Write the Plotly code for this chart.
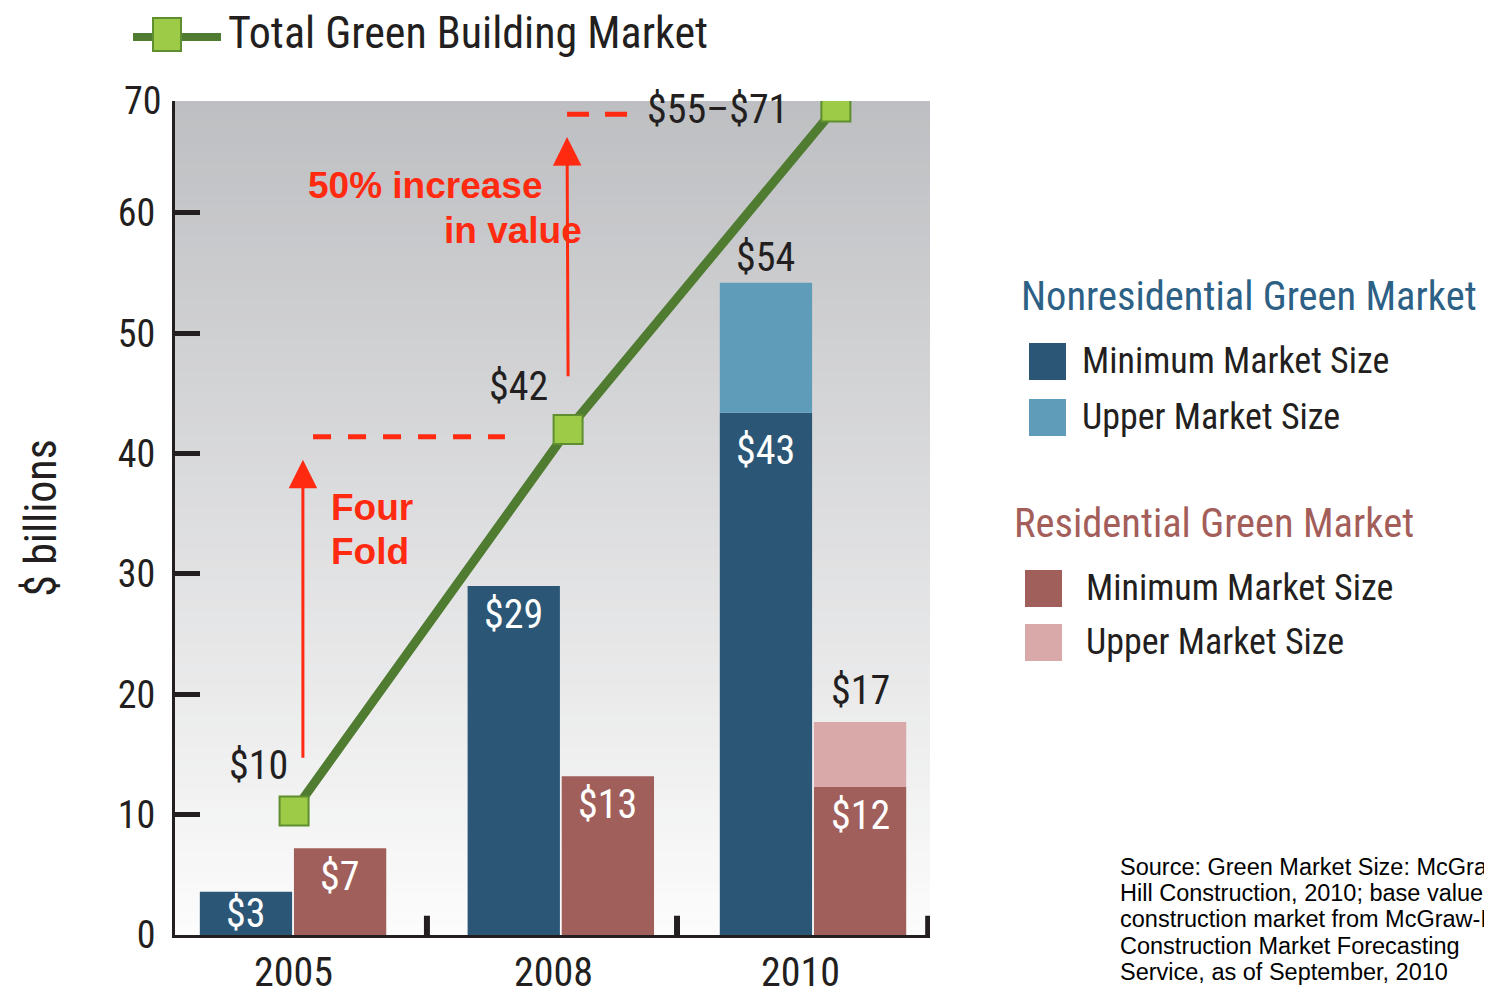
import plotly.graph_objects as go

# ---------------- data ----------------
years = ["2005", "2008", "2010"]
nonres_min = [3.6, 29.0, 43.4]
nonres_upper_top = [None, None, 54.2]
res_min = [7.2, 13.2, 12.3]
res_upper_top = [None, None, 17.7]
total_market = [10.3, 42.0, 68.8]

nonres_labels = ["$3", "$29", "$43"]
res_labels = ["$7", "$13", "$12"]
total_labels = ["$10", "$42", "$55\u2013$71"]
upper_labels_nonres = [None, None, "$54"]
upper_labels_res = [None, None, "$17"]

y_ticks = [0, 10, 20, 30, 40, 50, 60]

# ---------------- layout helpers (positions / styles) ----------------
group_pos = [0.0, 1.03, 2.0]
year_label_pos = [0.0, 1.0, 1.95]
line_pos = [0.004, 1.058, 2.088]
bar_off = 0.181
bar_w = 0.355
X_RANGE = [-0.454, 2.45]
Y_RANGE = [0, 69.3]

# label offsets (pixels) for the white in-bar labels
nonres_label_shift = [4, -3, -12]
res_label_shift = [-3, -3, -3]

C_NR_MIN = "#2b5675"
C_NR_UP = "#5e9cb9"
C_R_MIN = "#a15f5b"
C_R_UP = "#d9a9a9"
C_LINE = "#507c31"
C_MARK = "#9dcb48"
C_MARK_EDGE = "#5e8e2f"
C_RED = "#ff2a10"
C_TEXT = "#231f20"

COND = "Roboto Condensed, Liberation Sans Narrow, DejaVu Sans Condensed, sans-serif"
ARIAL = "Liberation Sans, Arial, sans-serif"

# page offset (body margin) and plot box in page pixels
OFF = 8
PL, PR, PT, PB = 175, 930, 101, 935
FIG_W, FIG_H = 1492 - OFF, 995 - OFF


def px_x(px):
    return (px - PL) / (PR - PL)


def px_y(py):
    return (PB - py) / (PB - PT)


fig = go.Figure()

nr_x = [g - bar_off for g in group_pos]
r_x = [g + bar_off for g in group_pos]

fig.add_trace(go.Bar(x=nr_x, y=nonres_min, width=bar_w, marker=dict(color=C_NR_MIN, line=dict(width=0)),
                     name="Nonresidential Minimum Market Size", showlegend=False))
nr_up_x = [x for x, v in zip(nr_x, nonres_upper_top) if v is not None]
nr_up_base = [m for m, v in zip(nonres_min, nonres_upper_top) if v is not None]
nr_up_h = [v - m for m, v in zip(nonres_min, nonres_upper_top) if v is not None]
fig.add_trace(go.Bar(x=nr_up_x, y=nr_up_h, base=nr_up_base, width=bar_w,
                     marker=dict(color=C_NR_UP, line=dict(width=0)),
                     name="Nonresidential Upper Market Size", showlegend=False))
fig.add_trace(go.Bar(x=r_x, y=res_min, width=bar_w, marker=dict(color=C_R_MIN, line=dict(width=0)),
                     name="Residential Minimum Market Size", showlegend=False))
r_up_x = [x for x, v in zip(r_x, res_upper_top) if v is not None]
r_up_base = [m for m, v in zip(res_min, res_upper_top) if v is not None]
r_up_h = [v - m for m, v in zip(res_min, res_upper_top) if v is not None]
fig.add_trace(go.Bar(x=r_up_x, y=r_up_h, base=r_up_base, width=bar_w,
                     marker=dict(color=C_R_UP, line=dict(width=0)),
                     name="Residential Upper Market Size", showlegend=False))

fig.add_trace(go.Scatter(x=line_pos, y=total_market, mode="lines+markers",
                         line=dict(color=C_LINE, width=9),
                         marker=dict(symbol="square", size=29, color=C_MARK,
                                     line=dict(color=C_MARK_EDGE, width=2)),
                         name="Total Green Building Market", showlegend=False))

annotations = []
shapes = []

# gradient plot background
N = 80
top_rgb = (190, 191, 194)
bot_rgb = (252, 252, 252)
for i in range(N):
    t = i / (N - 1)
    c = tuple(int(round(top_rgb[k] + (bot_rgb[k] - top_rgb[k]) * t)) for k in range(3))
    y1 = 1 - i / N
    y0 = 1 - (i + 1) / N
    shapes.append(dict(type="rect", xref="paper", yref="paper", x0=0, x1=1, y0=max(0, y0 - 0.001), y1=y1,
                       fillcolor="rgb(%d,%d,%d)" % c, line=dict(width=0), layer="below"))

# divider ticks on x axis
for xv in [0.515, 1.477, 2.443]:
    shapes.append(dict(type="line", xref="x", yref="y", x0=xv, x1=xv, y0=0, y1=1.6,
                       line=dict(color=C_TEXT, width=6)))

VAL_SIZE = 40
for x, v, lab, dy in zip(nr_x, nonres_min, nonres_labels, nonres_label_shift):
    annotations.append(dict(x=x, y=v, xref="x", yref="y", text=lab, showarrow=False,
                            yanchor="top", yshift=dy,
                            font=dict(family=COND, size=VAL_SIZE, color="white")))
for x, v, lab, dy in zip(r_x, res_min, res_labels, res_label_shift):
    annotations.append(dict(x=x, y=v, xref="x", yref="y", text=lab, showarrow=False,
                            yanchor="top", yshift=dy,
                            font=dict(family=COND, size=VAL_SIZE, color="white")))
for x, v, lab in zip(nr_x, nonres_upper_top, upper_labels_nonres):
    if v is not None:
        annotations.append(dict(x=x, y=v, xref="x", yref="y", text=lab, showarrow=False,
                                yanchor="bottom", yshift=0,
                                font=dict(family=COND, size=VAL_SIZE, color=C_TEXT)))
for x, v, lab in zip(r_x, res_upper_top, upper_labels_res):
    if v is not None:
        annotations.append(dict(x=x, y=v, xref="x", yref="y", text=lab, showarrow=False,
                                yanchor="bottom", yshift=6,
                                font=dict(family=COND, size=VAL_SIZE, color=C_TEXT)))
tot_shift = [(-36, 46), (-50, 43), (-118, -2)]
for x, v, lab, (dx, dy) in zip(line_pos, total_market, total_labels, tot_shift):
    annotations.append(dict(x=x, y=v, xref="x", yref="y", text=lab, showarrow=False,
                            xshift=dx, yshift=dy,
                            font=dict(family=COND, size=VAL_SIZE, color=C_TEXT)))

TICK_SIZE = 38
# "70" label at top of axis
annotations.append(dict(x=0, y=1.0, xref="paper", yref="paper", text="70", showarrow=False,
                        xanchor="right", yanchor="middle", xshift=-11, yshift=0,
                        font=dict(family=COND, size=TICK_SIZE, color=C_TEXT)))

# year labels
for xp, yr in zip(year_label_pos, years):
    annotations.append(dict(x=xp, y=0, xref="x", yref="paper", text=yr, showarrow=False,
                            yanchor="top", yshift=-12,
                            font=dict(family=COND, size=40, color=C_TEXT)))

# red arrows and dashed guides
annotations.append(dict(x=0.038, y=39.5, ax=0.038, ay=14.6, xref="x", yref="y", axref="x", ayref="y",
                        text="", showarrow=True, arrowhead=2, arrowsize=1.9, arrowwidth=3,
                        arrowcolor=C_RED))
annotations.append(dict(x=1.054, y=66.3, ax=1.058, ay=46.3, xref="x", yref="y", axref="x", ayref="y",
                        text="", showarrow=True, arrowhead=2, arrowsize=1.9, arrowwidth=3,
                        arrowcolor=C_RED))
shapes.append(dict(type="line", xref="x", yref="y", x0=0.077, x1=0.815, y0=41.4, y1=41.4,
                   line=dict(color=C_RED, width=5, dash="18px,17px")))
shapes.append(dict(type="line", xref="x", yref="y", x0=1.054, x1=1.29, y0=68.2, y1=68.2,
                   line=dict(color=C_RED, width=5, dash="22px,16px")))

RED_SIZE = 37
annotations.append(dict(x=px_x(329), y=px_y(507), xref="paper", yref="paper", text="<b>Four</b>",
                        showarrow=False, xanchor="left", yanchor="middle",
                        font=dict(family=ARIAL, size=RED_SIZE, color=C_RED)))
annotations.append(dict(x=px_x(329), y=px_y(551), xref="paper", yref="paper", text="<b>Fold</b>",
                        showarrow=False, xanchor="left", yanchor="middle",
                        font=dict(family=ARIAL, size=RED_SIZE, color=C_RED)))
annotations.append(dict(x=px_x(306), y=px_y(185), xref="paper", yref="paper", text="<b>50% increase</b>",
                        showarrow=False, xanchor="left", yanchor="middle",
                        font=dict(family=ARIAL, size=RED_SIZE, color=C_RED)))
annotations.append(dict(x=px_x(442), y=px_y(230), xref="paper", yref="paper", text="<b>in value</b>",
                        showarrow=False, xanchor="left", yanchor="middle",
                        font=dict(family=ARIAL, size=RED_SIZE, color=C_RED)))

# top legend (Total Green Building Market)
shapes.append(dict(type="line", xref="paper", yref="paper", x0=px_x(133), x1=px_x(221),
                   y0=px_y(37), y1=px_y(37), line=dict(color=C_LINE, width=8)))
shapes.append(dict(type="rect", xref="paper", yref="paper", x0=px_x(153), x1=px_x(181),
                   y0=px_y(51), y1=px_y(18), fillcolor=C_MARK, line=dict(color=C_MARK_EDGE, width=2)))
annotations.append(dict(x=px_x(226), y=px_y(33), xref="paper", yref="paper",
                        text="Total Green Building Market",
                        showarrow=False, xanchor="left", yanchor="middle",
                        font=dict(family=COND, size=44, color=C_TEXT)))

# right legend
annotations.append(dict(x=px_x(1019), y=px_y(296), xref="paper", yref="paper",
                        text="Nonresidential Green Market", showarrow=False, xanchor="left",
                        yanchor="middle", font=dict(family=COND, size=40.5, color="#2d6085")))
annotations.append(dict(x=px_x(1012), y=px_y(523), xref="paper", yref="paper",
                        text="Residential Green Market", showarrow=False, xanchor="left",
                        yanchor="middle", font=dict(family=COND, size=40.5, color="#a45e5a")))
legend_items = [
    (1029, 343, C_NR_MIN, 1080, "Minimum Market Size"),
    (1029, 399, C_NR_UP, 1080, "Upper Market Size"),
    (1025, 570, C_R_MIN, 1084, "Minimum Market Size"),
    (1025, 624, C_R_UP, 1084, "Upper Market Size"),
]
for sx, sy, col, tx, lab in legend_items:
    shapes.append(dict(type="rect", xref="paper", yref="paper", x0=px_x(sx), x1=px_x(sx + 37),
                       y0=px_y(sy + 37), y1=px_y(sy), fillcolor=col, line=dict(width=0)))
    annotations.append(dict(x=px_x(tx), y=px_y(sy + 18), xref="paper", yref="paper", text=lab,
                            showarrow=False, xanchor="left", yanchor="middle",
                            font=dict(family=COND, size=36, color=C_TEXT)))

# source note
source_lines = [
    "Source: Green Market Size: McGraw-",
    "Hill Construction, 2010; base value of",
    "construction market from McGraw-Hill",
    "Construction Market Forecasting",
    "Service, as of September, 2010",
]
for i, line in enumerate(source_lines):
    annotations.append(dict(x=px_x(1118), y=px_y(867 + 26.2 * i), xref="paper", yref="paper",
                            text=line, showarrow=False, xanchor="left", yanchor="middle",
                            font=dict(family=ARIAL, size=23.5, color="black")))

fig.update_layout(
    width=FIG_W, height=FIG_H,
    margin=dict(l=PL - OFF, r=1492 - PR, t=PT - OFF, b=FIG_H - (PB - OFF), autoexpand=False),
    paper_bgcolor="white",
    plot_bgcolor="rgba(0,0,0,0)",
    barmode="overlay",
    showlegend=False,
    shapes=shapes,
    annotations=annotations,
    xaxis=dict(range=X_RANGE, showticklabels=False, ticks="", showgrid=False, zeroline=False,
               showline=True, linecolor=C_TEXT, linewidth=3),
    yaxis=dict(range=Y_RANGE, tickvals=y_ticks, ticks="inside", ticklen=25, tickwidth=5,
               tickcolor=C_TEXT, showgrid=False, zeroline=False, showline=True,
               linecolor=C_TEXT, linewidth=3, ticklabelstandoff=9,
               tickfont=dict(family=COND, size=TICK_SIZE, color=C_TEXT),
               title=dict(text="$ billions", standoff=48,
                          font=dict(family=COND, size=44, color=C_TEXT))),
)

fig.write_html("out.html")
